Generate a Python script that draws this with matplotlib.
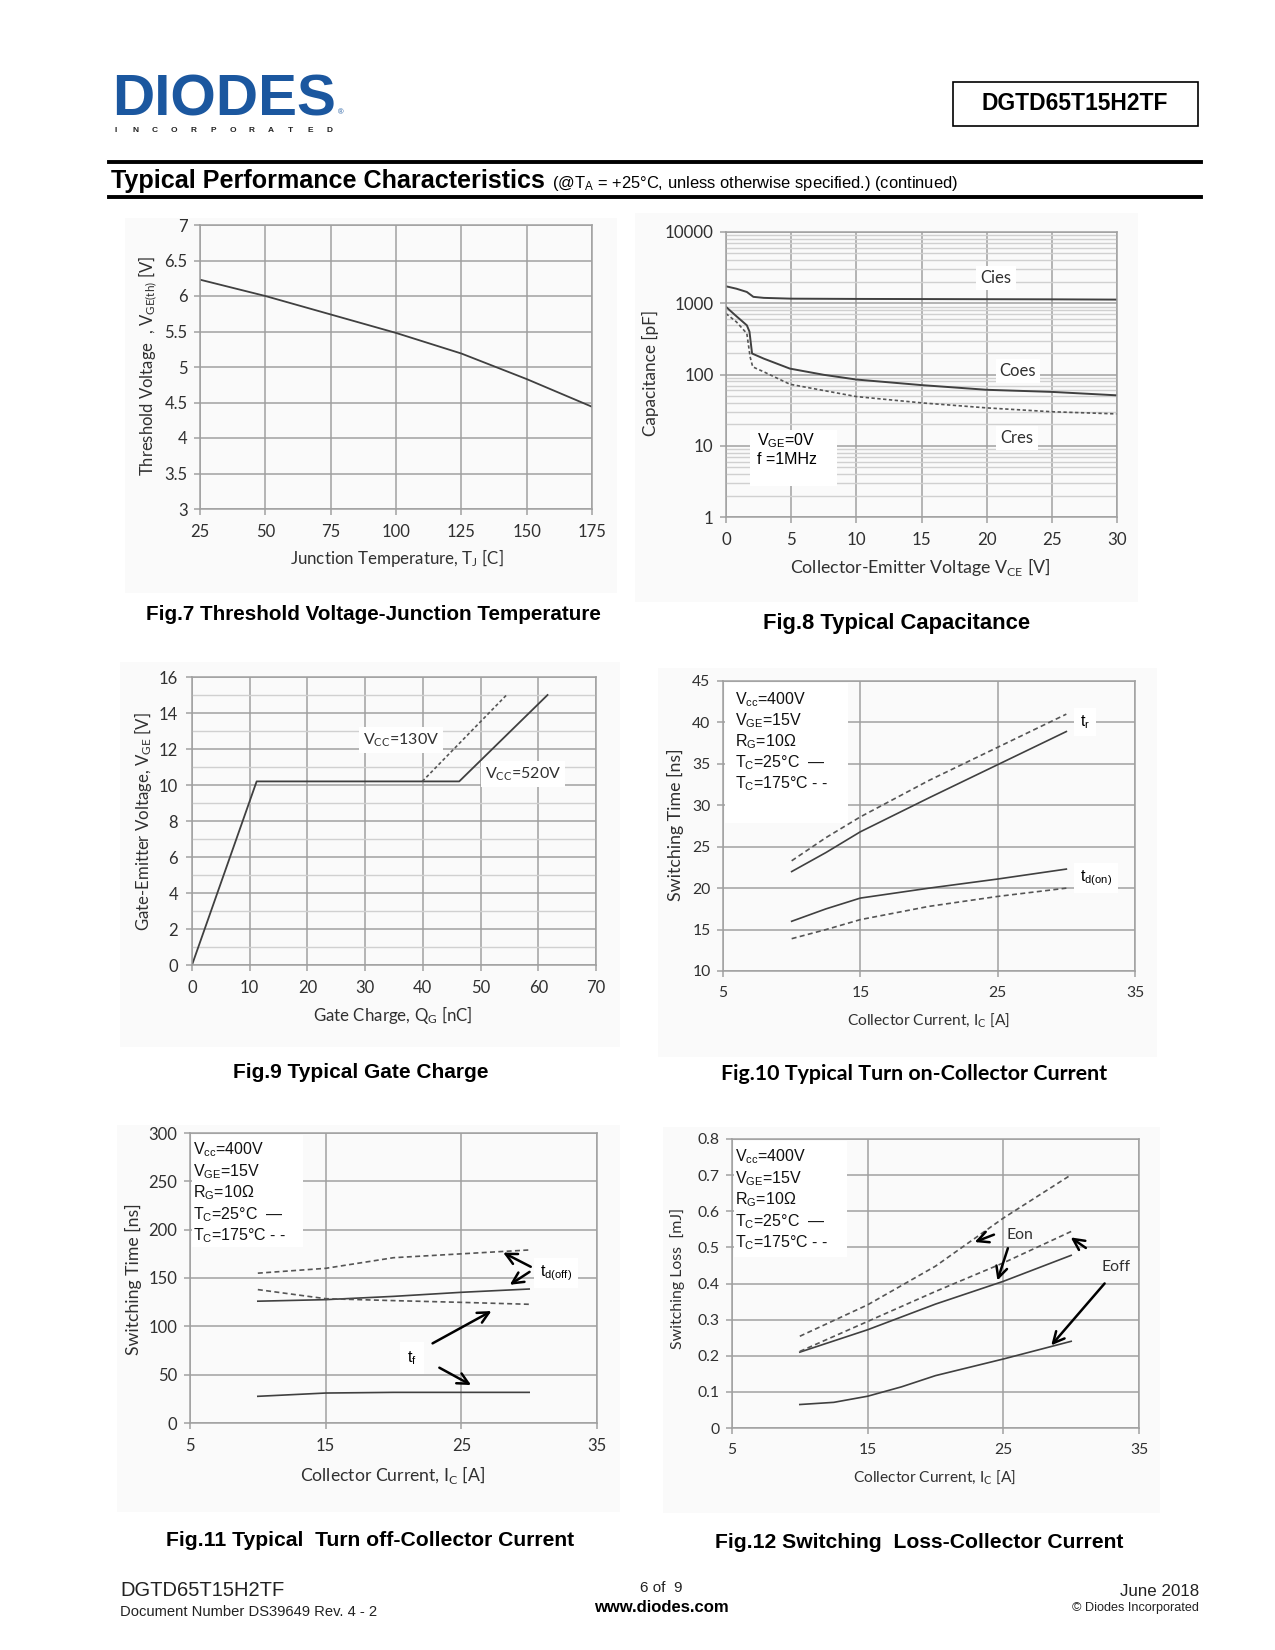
import matplotlib
matplotlib.use("Agg")
import matplotlib.pyplot as plt
from matplotlib.patches import Rectangle
from matplotlib.lines import Line2D
from matplotlib.ticker import LogLocator, NullFormatter, FixedLocator

plt.rcParams['font.family'] = ['Lato', 'DejaVu Sans']
plt.rcParams['mathtext.fontset'] = 'custom'
plt.rcParams['mathtext.rm'] = 'Liberation Sans'
plt.rcParams['mathtext.it'] = 'Liberation Sans:italic'
plt.rcParams['mathtext.sf'] = 'Lato'

# ---------------- data ----------------
# Fig 7
tj = [25, 50, 75, 100, 125, 150, 175]
vth = [6.23, 6.0, 5.74, 5.48, 5.19, 4.83, 4.44]

# Fig 8
vce_cies = [0, 0.8, 1.6, 2.1, 2.9, 5, 10, 15, 20, 25, 30]
cies = [1730, 1600, 1440, 1230, 1190, 1160, 1150, 1145, 1140, 1135, 1125]
vce_coes = [0, 0.8, 1.6, 1.8, 2.0, 2.9, 4.9, 7.5, 10, 15, 20, 25, 30]
coes = [890, 657, 490, 400, 197, 167, 121, 99, 85, 71, 61, 57, 51]
vce_cres = [0, 0.8, 1.6, 1.85, 2.05, 2.9, 4.9, 10, 15, 20, 25, 30]
cres = [716, 547, 376, 177, 128, 109, 73, 49, 40, 34, 30, 28]

# Fig 9
qg_520 = [0, 11.2, 46.3, 61.6]
vge_520 = [0, 10.2, 10.2, 15.0]
qg_130 = [39.9, 54.5]
vge_130 = [10.2, 15.0]

# Fig 10
ic10 = [10, 12.5, 15, 20, 25, 30]
tr_25 = [22.0, 24.3, 26.8, 30.9, 34.9, 38.9]
tr_175 = [23.3, 26.1, 28.6, 33.0, 37.0, 41.0]
tdon_25 = [16.0, 17.5, 18.8, 20.0, 21.1, 22.3]
tdon_175 = [13.9, 15.0, 16.2, 17.8, 19.0, 20.0]

# Fig 11
ic11 = [10, 15, 20, 25, 30]
tdoff_25 = [126, 127.6, 131, 135.2, 138.6]
tdoff_175 = [155, 160, 171, 175, 179]
tf_25 = [27.6, 31, 31.7, 31.7, 31.7]
tf_175 = [138, 128.6, 126.6, 124.8, 122.8]

# Fig 12
ic12 = [10, 15, 20, 25, 30]
eon_175 = [0.254, 0.341, 0.448, 0.581, 0.701]
eon_25 = [0.21, 0.272, 0.343, 0.406, 0.478]
eoff_175 = [0.212, 0.295, 0.378, 0.457, 0.544]
ic12b = [10, 12.5, 15, 17.5, 20, 25, 30]
eoff_25 = [0.065, 0.071, 0.088, 0.114, 0.145, 0.191, 0.24]

# ---------------- layout helpers ----------------
W, H = 1275, 1650
fig = plt.figure(figsize=(W / 100, H / 100), dpi=100)
fig.patch.set_facecolor('white')

GRID = '#a0a0a0'
MINOR = '#d0d0d0'
LINE = '#404040'
DASH = (0, (3, 2))
ARIAL = 'Liberation Sans'
LBL = '#303030'


def fx(x):
    return x / W


def fy(y):
    return 1 - y / H


def axes_px(x0, y0, x1, y1):
    return fig.add_axes([fx(x0), fy(y1), (x1 - x0) / W, (y1 - y0) / H])


def ftext(x, y, s, **kw):
    return fig.text(fx(x), fy(y), s, **kw)


def panel(x0, y0, x1, y1):
    fig.add_artist(Rectangle((fx(x0), fy(y1)), (x1 - x0) / W, (y1 - y0) / H,
                             transform=fig.transFigure, facecolor='#fafafa',
                             edgecolor='none', zorder=-5))


def style(ax, tsize=12, xpad=7, ypad=5):
    ax.set_facecolor('none')
    for s in ax.spines.values():
        s.set_color(GRID)
        s.set_linewidth(1.1)
    ax.tick_params(axis='both', which='major', direction='out', length=4, width=1.1,
                   color=GRID, labelsize=tsize, labelcolor=LBL)
    ax.tick_params(axis='x', pad=xpad)
    ax.tick_params(axis='y', pad=ypad)
    ax.tick_params(axis='both', which='minor', length=0)
    ax.set_axisbelow(True)
    ax.grid(True, which='major', color=GRID, lw=1.1)


def whitebox(ax, x0, y0, x1, y1):
    ax.add_patch(Rectangle((fx(x0), fy(y1)), (x1 - x0) / W, (y1 - y0) / H,
                           transform=fig.transFigure, facecolor='white',
                           edgecolor='none', zorder=1, clip_on=False))


def cond_text(x, y0, step, lines):
    for i, s in enumerate(lines):
        ftext(x, y0 + i * step, s, family=ARIAL, fontsize=11.5, color='#111111',
              ha='left', va='center')


cond_lines = [r'V$_{\mathrm{cc}}$=400V', r'V$_{\mathrm{GE}}$=15V', r'R$_{\mathrm{G}}$=10Ω',
              r'T$_{\mathrm{C}}$=25°C  —', r'T$_{\mathrm{C}}$=175°C - -']

# ---------------- header ----------------
ftext(112, 115, 'DIODES', family=ARIAL, fontsize=42, weight='heavy',
      color='#1b579f', ha='left', va='baseline')
fig.add_artist(Line2D([fx(113), fx(190)], [fy(95), fy(95)], color='white', lw=1.6,
                      transform=fig.transFigure))
ftext(338, 114, '®', family=ARIAL, fontsize=5.5, color='#1b579f', ha='left', va='baseline')
for i, ch in enumerate('INCORPORATED'):
    ftext(116 + i * 19.4, 131, ch, family=ARIAL, fontsize=6, weight='bold',
          color='#222222', ha='center', va='center')

fig.add_artist(Rectangle((fx(953), fy(126)), (1198 - 953) / W, (126 - 82) / H,
                         transform=fig.transFigure, facecolor='white',
                         edgecolor='black', lw=1.2))
ftext(1075, 104, 'DGTD65T15H2TF', family=ARIAL, fontsize=16.5, weight='bold',
      ha='center', va='center')

for yy in (162, 197):
    fig.add_artist(Line2D([fx(109), fx(1201)], [fy(yy), fy(yy)], color='black', lw=2.8,
                          transform=fig.transFigure))
ftext(111, 188, 'Typical Performance Characteristics', family=ARIAL, fontsize=18.1,
      weight='bold', ha='left', va='baseline')
ftext(552, 188, r'(@T$_{\mathrm{A}}$ = +25°C, unless otherwise specified.) (continued)',
      family=ARIAL, fontsize=11.9, ha='left', va='baseline')

# ---------------- Fig 7 ----------------
panel(125, 218, 617, 593)
ax7 = axes_px(200, 225, 592, 509)
style(ax7)
ax7.plot(tj, vth, color=LINE, lw=1.3)
ax7.set_xlim(25, 175)
ax7.set_ylim(3, 7)
ax7.set_xticks([25, 50, 75, 100, 125, 150, 175])
ax7.set_yticks([3, 3.5, 4, 4.5, 5, 5.5, 6, 6.5, 7])
ax7.set_yticklabels(['3', '3.5', '4', '4.5', '5', '5.5', '6', '6.5', '7'])
ftext(397, 558, r'Junction Temperature, T$_{\mathsf{J}}$ [C]', fontsize=12.2, color=LBL,
      ha='center', va='center')
ftext(148, 366, r'Threshold Voltage  , V$_{\mathsf{GE(th)}}$ [V]', fontsize=12,
      color=LBL, ha='center', va='center', rotation=90)
ftext(373, 615, 'Fig.7 Threshold Voltage-Junction Temperature', family=ARIAL,
      fontsize=14.9, weight='bold', ha='center', va='center')

# ---------------- Fig 8 ----------------
panel(635, 213, 1138, 602)
ax8 = axes_px(726, 232, 1117, 517)
style(ax8, tsize=12.2)
ax8.set_yscale('log')
ax8.set_ylim(1, 10000)
ax8.set_xlim(0, 30)
ax8.set_xticks([0, 5, 10, 15, 20, 25, 30])
ax8.yaxis.set_major_locator(FixedLocator([1, 10, 100, 1000, 10000]))
ax8.set_yticklabels(['1', '10', '100', '1000', '10000'])
ax8.yaxis.set_minor_locator(LogLocator(base=10, subs=range(2, 10), numticks=20))
ax8.yaxis.set_minor_formatter(NullFormatter())
ax8.grid(True, which='minor', axis='y', color=MINOR, lw=1.0)
ax8.plot(vce_cies, cies, color=LINE, lw=1.4)
ax8.plot(vce_coes, coes, color=LINE, lw=1.4)
ax8.plot(vce_cres, cres, color='#555555', lw=1.2, ls=(0, (2, 1.5)))
whitebox(ax8, 750, 430, 837, 486)
ftext(757, 441, r'V$_{\mathrm{GE}}$=0V', family=ARIAL, fontsize=11.5, ha='left', va='center')
ftext(757, 460, 'f =1MHz', family=ARIAL, fontsize=11.5, ha='left', va='center')
for s, xx, yy in (('Cies', 996, 278), ('Coes', 1018, 371), ('Cres', 1017, 438)):
    ftext(xx, yy, s, fontsize=12, color=LBL, ha='center', va='center',
          bbox=dict(facecolor='white', edgecolor='none', pad=3))
ftext(920, 567, r'Collector-Emitter Voltage V$_{\mathsf{CE}}$ [V]', fontsize=12.8,
      color=LBL, ha='center', va='center')
ftext(650, 373, 'Capacitance [pF]', fontsize=12.3, color=LBL, ha='center',
      va='center', rotation=90)
ftext(897, 624, 'Fig.8 Typical Capacitance', family=ARIAL, fontsize=15.8, weight='bold',
      ha='center', va='center')

# ---------------- Fig 9 ----------------
panel(120, 662, 620, 1047)
ax9 = axes_px(192, 677, 596, 965)
style(ax9, ypad=6)
ax9.set_xlim(0, 70)
ax9.set_ylim(0, 16)
ax9.set_xticks(range(0, 71, 10))
ax9.set_yticks(range(0, 17, 2))
ax9.set_yticks(range(1, 16, 2), minor=True)
ax9.grid(True, which='minor', axis='y', color=MINOR, lw=1.0)
ax9.plot(qg_520, vge_520, color=LINE, lw=1.3)
ax9.plot(qg_130, vge_130, color='#555555', lw=1.2, ls=(0, (2, 1.5)))
ftext(401, 740, r'V$_{\mathsf{CC}}$=130V', fontsize=11.5, color=LBL, ha='center',
      va='center', bbox=dict(facecolor='white', edgecolor='none', pad=3))
ftext(523, 774, r'V$_{\mathsf{CC}}$=520V', fontsize=11.5, color=LBL, ha='center',
      va='center', bbox=dict(facecolor='white', edgecolor='none', pad=3))
ftext(393, 1015, r'Gate Charge, Q$_{\mathsf{G}}$ [nC]', fontsize=12.2, color=LBL,
      ha='center', va='center')
ftext(143, 822, r'Gate-Emitter Voltage, V$_{\mathsf{GE}}$ [V]', fontsize=12.1,
      color=LBL, ha='center', va='center', rotation=90)
ftext(361, 1072, 'Fig.9 Typical Gate Charge', family=ARIAL, fontsize=15, weight='bold',
      ha='center', va='center')

# ---------------- Fig 10 ----------------
panel(658, 668, 1157, 1057)
ax10 = axes_px(723, 681, 1135, 971)
style(ax10, tsize=11.3)
ax10.set_xlim(5, 35)
ax10.set_ylim(10, 45)
ax10.set_xticks([5, 15, 25, 35])
ax10.set_yticks(range(10, 46, 5))
ax10.plot(ic10, tr_25, color=LINE, lw=1.2)
ax10.plot(ic10, tr_175, color='#555555', lw=1.2, ls=DASH)
ax10.plot(ic10, tdon_25, color=LINE, lw=1.2)
ax10.plot(ic10, tdon_175, color='#555555', lw=1.2, ls=DASH)
whitebox(ax10, 725, 683, 848, 823)
cond_text(735, 700, 21, cond_lines)
ftext(1080, 722, r't$_{\mathrm{r}}$', family=ARIAL, fontsize=11.5, ha='left', va='center',
      bbox=dict(facecolor='white', edgecolor='none', pad=4))
ftext(1080, 878, r't$_{\mathrm{d(on)}}$', family=ARIAL, fontsize=11.5, ha='left',
      va='center', bbox=dict(facecolor='white', edgecolor='none', pad=4))
ftext(928, 1021, r'Collector Current, I$_{\mathsf{C}}$ [A]', fontsize=11.2, color=LBL,
      ha='center', va='center')
ftext(675, 825, 'Switching Time [ns]', fontsize=12.8, color=LBL, ha='center',
      va='center', rotation=90)
ftext(914, 1074, 'Fig.10 Typical Turn on-Collector Current', family='Lato', fontsize=15.4,
      weight='bold', ha='center', va='center')

# ---------------- Fig 11 ----------------
panel(117, 1125, 620, 1512)
ax11 = axes_px(190, 1133, 597, 1423)
style(ax11)
ax11.set_xlim(5, 35)
ax11.set_ylim(0, 300)
ax11.set_xticks([5, 15, 25, 35])
ax11.set_yticks(range(0, 301, 50))
ax11.plot(ic11, tdoff_175, color='#555555', lw=1.2, ls=DASH)
ax11.plot(ic11, tdoff_25, color=LINE, lw=1.2)
ax11.plot(ic11, tf_175, color='#555555', lw=1.2, ls=DASH)
ax11.plot(ic11, tf_25, color=LINE, lw=1.2)
whitebox(ax11, 192, 1135, 303, 1247)
cond_text(193, 1150, 21.5, cond_lines)
aprops = dict(arrowstyle='->', lw=1.8, color='black', mutation_scale=20)
ax11.annotate('', xy=(27.9, 177.6), xytext=(30.3, 160.3), arrowprops=aprops)
ax11.annotate('', xy=(28.4, 141.4), xytext=(30.2, 157.9), arrowprops=aprops)
ax11.annotate('', xy=(27.4, 117.2), xytext=(22.7, 81.0), arrowprops=aprops)
ax11.annotate('', xy=(25.9, 37.9), xytext=(23.2, 58.6), arrowprops=aprops)
ftext(540, 1273, r't$_{\mathrm{d(off)}}$', family=ARIAL, fontsize=11.5, ha='left',
      va='center', bbox=dict(facecolor='white', edgecolor='none', pad=4))
ftext(412, 1358, r't$_{\mathrm{f}}$', family=ARIAL, fontsize=11.5, ha='center',
      va='center', bbox=dict(facecolor='white', edgecolor='none', pad=5))
ftext(393, 1475, r'Collector Current, I$_{\mathsf{C}}$ [A]', fontsize=12.7, color=LBL,
      ha='center', va='center')
ftext(133, 1279, 'Switching Time [ns]', fontsize=12.7, color=LBL, ha='center',
      va='center', rotation=90)
ftext(370, 1540, 'Fig.11 Typical  Turn off-Collector Current', family=ARIAL, fontsize=15.2,
      weight='bold', ha='center', va='center')

# ---------------- Fig 12 ----------------
panel(663, 1127, 1160, 1513)
ax12 = axes_px(732, 1139, 1139, 1428)
style(ax12, tsize=11.3)
ax12.set_xlim(5, 35)
ax12.set_ylim(0, 0.8)
ax12.set_xticks([5, 15, 25, 35])
ax12.set_yticks([0, 0.1, 0.2, 0.3, 0.4, 0.5, 0.6, 0.7, 0.8])
ax12.set_yticklabels(['0', '0.1', '0.2', '0.3', '0.4', '0.5', '0.6', '0.7', '0.8'])
ax12.plot(ic12, eon_175, color='#555555', lw=1.2, ls=DASH)
ax12.plot(ic12, eon_25, color=LINE, lw=1.2)
ax12.plot(ic12, eoff_175, color='#555555', lw=1.2, ls=DASH)
ax12.plot(ic12b, eoff_25, color=LINE, lw=1.2)
whitebox(ax12, 734, 1141, 847, 1257)
cond_text(735, 1157, 21.5, cond_lines)
ax12.annotate('', xy=(22.7, 0.512), xytext=(24.5, 0.538), arrowprops=aprops)
ax12.annotate('', xy=(24.5, 0.401), xytext=(25.4, 0.505), arrowprops=aprops)
ax12.annotate('', xy=(29.8, 0.532), xytext=(31.25, 0.494), arrowprops=aprops)
ax12.annotate('', xy=(28.4, 0.223), xytext=(32.6, 0.406), arrowprops=aprops)
ftext(1020, 1235, 'Eon', fontsize=11.3, color=LBL, ha='center', va='center')
ftext(1116, 1267, 'Eoff', fontsize=11.3, color=LBL, ha='center', va='center')
ftext(934, 1478, r'Collector Current, I$_{\mathsf{C}}$ [A]', fontsize=11.2, color=LBL,
      ha='center', va='center')
ftext(678, 1278, 'Switching Loss  [mJ]', fontsize=11.4, color=LBL, ha='center',
      va='center', rotation=90)
ftext(919, 1542, 'Fig.12 Switching  Loss-Collector Current', family=ARIAL, fontsize=15.2,
      weight='bold', ha='center', va='center')

# ---------------- footer ----------------
ftext(120, 1591, 'DGTD65T15H2TF', family=ARIAL, fontsize=14.5, ha='left', va='center',
      color='#222222')
ftext(120, 1612, 'Document Number DS39649 Rev. 4 - 2', family=ARIAL, fontsize=10.6,
      ha='left', va='center', color='#222222')
ftext(661, 1588, '6 of  9', family=ARIAL, fontsize=11, ha='center', va='center',
      color='#222222')
ftext(661, 1607, 'www.diodes.com', family=ARIAL, fontsize=12, weight='bold',
      ha='center', va='center')
ftext(1199, 1591, 'June 2018', family=ARIAL, fontsize=12.2, ha='right', va='center',
      color='#222222')
ftext(1199, 1608, '© Diodes Incorporated', family=ARIAL, fontsize=9.1, ha='right',
      va='center', color='#222222')

fig.savefig('out.png', dpi=100)
